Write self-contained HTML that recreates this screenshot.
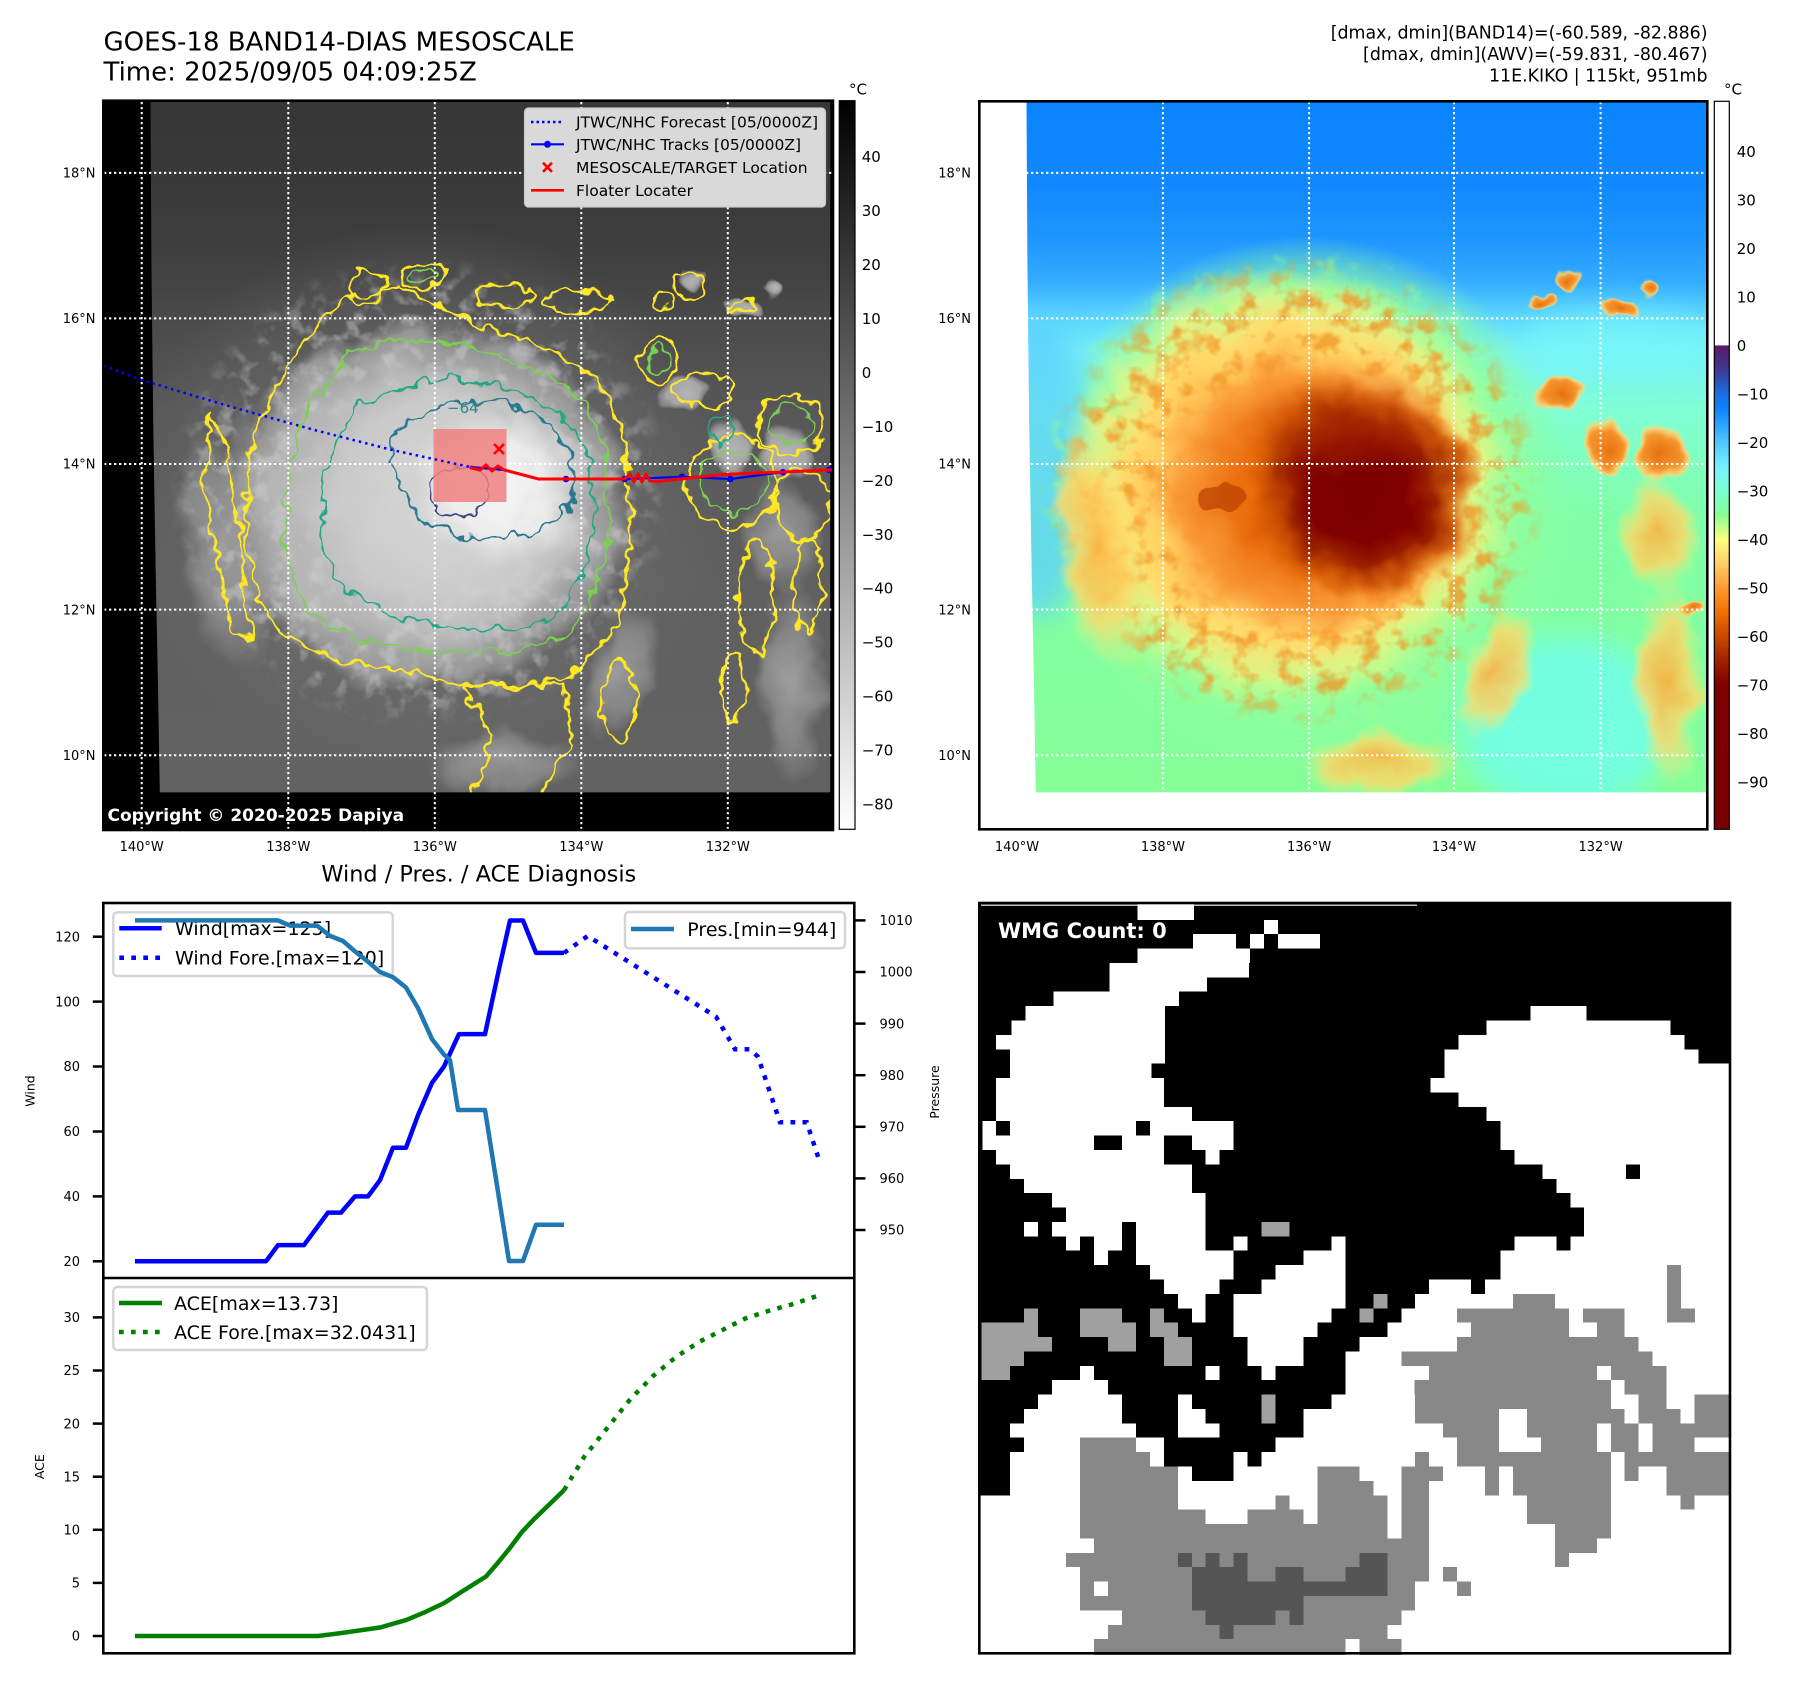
<!DOCTYPE html>
<html><head><meta charset="utf-8">
<style>
html,body{margin:0;padding:0;background:#fff}
svg{display:block}
text{font-family:"DejaVu Sans","Liberation Sans",sans-serif}
</style></head>
<body>
<svg width="1797" height="1690" viewBox="0 0 1797 1690" xmlns="http://www.w3.org/2000/svg">
<defs>
  <filter id="wob" x="-20%" y="-20%" width="140%" height="140%" color-interpolation-filters="sRGB">
    <feTurbulence type="fractalNoise" baseFrequency="0.01" numOctaves="3" seed="5" result="n"/>
    <feDisplacementMap in="SourceGraphic" in2="n" scale="70" xChannelSelector="R" yChannelSelector="G"/>
  </filter>
  <filter id="wob2" x="-20%" y="-20%" width="140%" height="140%" color-interpolation-filters="sRGB">
    <feTurbulence type="fractalNoise" baseFrequency="0.03" numOctaves="2" seed="9" result="n"/>
    <feDisplacementMap in="SourceGraphic" in2="n" scale="40" xChannelSelector="R" yChannelSelector="G"/>
  </filter>
  <filter id="blur" x="-50%" y="-50%" width="200%" height="200%"><feGaussianBlur stdDeviation="30"/></filter>
  <filter id="speckG" x="0%" y="0%" width="100%" height="100%" color-interpolation-filters="sRGB">
    <feTurbulence type="fractalNoise" baseFrequency="0.025" numOctaves="3" seed="21"/>
    <feColorMatrix type="matrix" values="0 0 0 0 0.84  0 0 0 0 0.84  0 0 0 0 0.84  4 0 0 0 -2.0"/>
  </filter>
  <filter id="speckO" x="0%" y="0%" width="100%" height="100%" color-interpolation-filters="sRGB">
    <feTurbulence type="fractalNoise" baseFrequency="0.022" numOctaves="3" seed="11"/>
    <feColorMatrix type="matrix" values="0 0 0 0 0.95  0 0 0 0 0.58  0 0 0 0 0.15  4 0 0 0 -1.95"/>
  </filter>
  <filter id="speckGr" x="0%" y="0%" width="100%" height="100%" color-interpolation-filters="sRGB">
    <feTurbulence type="fractalNoise" baseFrequency="0.022" numOctaves="3" seed="33"/>
    <feColorMatrix type="matrix" values="0 0 0 0 0.6  0 0 0 0 1  0 0 0 0 0.55  4 0 0 0 -2.2"/>
  </filter>
  <radialGradient id="mgRing"><stop offset="0" stop-color="#000"/><stop offset="0.35" stop-color="#000"/><stop offset="0.55" stop-color="#fff"/><stop offset="0.85" stop-color="#fff"/><stop offset="1" stop-color="#000"/></radialGradient>
  <radialGradient id="mgOuter"><stop offset="0" stop-color="#000"/><stop offset="0.65" stop-color="#000"/><stop offset="0.8" stop-color="#fff"/><stop offset="0.92" stop-color="#fff"/><stop offset="1" stop-color="#000"/></radialGradient>
  <mask id="mRing" maskUnits="userSpaceOnUse" x="0" y="0" width="1568" height="1568"><ellipse cx="680" cy="840" rx="540" ry="510" fill="url(#mgRing)"/></mask>
  <mask id="mOuter" maskUnits="userSpaceOnUse" x="0" y="0" width="1568" height="1568"><ellipse cx="680" cy="840" rx="560" ry="530" fill="url(#mgOuter)"/></mask>
  <clipPath id="dclip"><polygon points="102,0 1562,0 1562,1485 122,1485 118,1250 113,1000 108,700 104,350"/></clipPath>

  <linearGradient id="rbg" gradientUnits="userSpaceOnUse" x1="0" y1="0" x2="0" y2="1485">
    <stop offset="0" stop-color="#0a84ff"/><stop offset="0.12" stop-color="#1188ff"/>
    <stop offset="0.2" stop-color="#1e96ff"/><stop offset="0.26" stop-color="#34acff"/>
    <stop offset="0.31" stop-color="#5ad4ff"/><stop offset="0.36" stop-color="#76f0f6"/>
    <stop offset="0.45" stop-color="#80ffd4"/><stop offset="0.6" stop-color="#80ffa8"/>
    <stop offset="1" stop-color="#86ff98"/>
  </linearGradient>
  <radialGradient id="rA"><stop offset="0" stop-color="#98ff88"/><stop offset="0.8" stop-color="#90ffa0" stop-opacity="0.85"/><stop offset="1" stop-color="#90ffa0" stop-opacity="0"/></radialGradient>
  <radialGradient id="rB"><stop offset="0" stop-color="#ffb048"/><stop offset="0.5" stop-color="#ffc458"/><stop offset="0.7" stop-color="#ffdc6c"/><stop offset="0.84" stop-color="#f0f480" stop-opacity="0.75"/><stop offset="1" stop-color="#c8ff88" stop-opacity="0"/></radialGradient>
  <radialGradient id="rC"><stop offset="0" stop-color="#e05a00"/><stop offset="0.5" stop-color="#ec7010"/><stop offset="0.78" stop-color="#f89030" stop-opacity="0.8"/><stop offset="1" stop-color="#ffb048" stop-opacity="0"/></radialGradient>
  <radialGradient id="rD"><stop offset="0" stop-color="#7c0000"/><stop offset="0.45" stop-color="#800000"/><stop offset="0.65" stop-color="#9a2000"/><stop offset="0.82" stop-color="#c44a00" stop-opacity="0.75"/><stop offset="1" stop-color="#e06000" stop-opacity="0"/></radialGradient>
  <radialGradient id="rE"><stop offset="0" stop-color="#a02800" stop-opacity="0.75"/><stop offset="1" stop-color="#c04000" stop-opacity="0"/></radialGradient>
  <radialGradient id="rH"><stop offset="0" stop-color="#e8700e"/><stop offset="0.6" stop-color="#f5952e"/><stop offset="0.85" stop-color="#ffd070" stop-opacity="0.9"/><stop offset="1" stop-color="#ffe080" stop-opacity="0"/></radialGradient>
  <radialGradient id="rI"><stop offset="0" stop-color="#ffb040" stop-opacity="0.9"/><stop offset="0.6" stop-color="#ffd868" stop-opacity="0.8"/><stop offset="1" stop-color="#f0f080" stop-opacity="0"/></radialGradient>

  <linearGradient id="lbg" gradientUnits="userSpaceOnUse" x1="0" y1="0" x2="0" y2="1485">
    <stop offset="0" stop-color="#363636"/><stop offset="0.15" stop-color="#3a3a3a"/>
    <stop offset="0.25" stop-color="#424242"/><stop offset="0.33" stop-color="#4c4c4c"/>
    <stop offset="0.45" stop-color="#585858"/><stop offset="0.7" stop-color="#606060"/>
    <stop offset="1" stop-color="#626262"/>
  </linearGradient>
  <radialGradient id="lA"><stop offset="0" stop-color="#808080" stop-opacity="0.6"/><stop offset="0.75" stop-color="#747474" stop-opacity="0.3"/><stop offset="1" stop-color="#747474" stop-opacity="0"/></radialGradient>
  <radialGradient id="lB"><stop offset="0" stop-color="#c4c4c4"/><stop offset="0.7" stop-color="#b6b6b6"/><stop offset="0.9" stop-color="#a4a4a4" stop-opacity="0.8"/><stop offset="1" stop-color="#999999" stop-opacity="0"/></radialGradient>
  <radialGradient id="lC"><stop offset="0" stop-color="#dadada"/><stop offset="0.7" stop-color="#cecece" stop-opacity="0.8"/><stop offset="1" stop-color="#c4c4c4" stop-opacity="0"/></radialGradient>
  <radialGradient id="lD"><stop offset="0" stop-color="#f6f6f6"/><stop offset="0.6" stop-color="#ececec"/><stop offset="1" stop-color="#e0e0e0" stop-opacity="0"/></radialGradient>
  <radialGradient id="lH"><stop offset="0" stop-color="#b4b4b4"/><stop offset="0.6" stop-color="#a6a6a6"/><stop offset="0.85" stop-color="#909090" stop-opacity="0.8"/><stop offset="1" stop-color="#909090" stop-opacity="0"/></radialGradient>
  <radialGradient id="lI"><stop offset="0" stop-color="#a4a4a4" stop-opacity="0.9"/><stop offset="0.6" stop-color="#949494" stop-opacity="0.7"/><stop offset="1" stop-color="#949494" stop-opacity="0"/></radialGradient>

  <linearGradient id="cbL" x1="0" y1="0" x2="0" y2="1"><stop offset="0" stop-color="#000"/><stop offset="1" stop-color="#fff"/></linearGradient>
  <linearGradient id="cbR" x1="0" y1="0" x2="0" y2="1">
    <stop offset="0" stop-color="#ffffff"/><stop offset="0.335" stop-color="#ffffff"/>
    <stop offset="0.3357" stop-color="#5c1a62"/><stop offset="0.37" stop-color="#3a3a9a"/>
    <stop offset="0.4023" stop-color="#1a70e0"/><stop offset="0.4223" stop-color="#0a84ff"/>
    <stop offset="0.469" stop-color="#50c8ff"/><stop offset="0.5023" stop-color="#78f0ff"/>
    <stop offset="0.5356" stop-color="#78ffd0"/><stop offset="0.569" stop-color="#88ff90"/>
    <stop offset="0.6022" stop-color="#ffff80"/><stop offset="0.6356" stop-color="#ffcc68"/>
    <stop offset="0.669" stop-color="#ff9a30"/><stop offset="0.7022" stop-color="#f07000"/>
    <stop offset="0.7356" stop-color="#c84800"/><stop offset="0.769" stop-color="#a02000"/>
    <stop offset="0.8022" stop-color="#800000"/><stop offset="1" stop-color="#7a0000"/>
  </linearGradient>
</defs>

<rect width="1797" height="1690" fill="#fff"/>

<text x="103.5" y="50.5" font-size="26" fill="#000">GOES-18 BAND14-DIAS MESOSCALE</text>
<text x="103.5" y="80.5" font-size="26" fill="#000">Time: 2025/09/05 04:09:25Z</text>
<text x="1707.5" y="38.5" font-size="17.4" text-anchor="end">[dmax, dmin](BAND14)=(-60.589, -82.886)</text>
<text x="1707.5" y="60" font-size="17.4" text-anchor="end">[dmax, dmin](AWV)=(-59.831, -80.467)</text>
<text x="1707.5" y="81.5" font-size="17.4" text-anchor="end">11E.KIKO | 115kt, 951mb</text>

<!-- LEFT IR PANEL -->
<svg x="103" y="101" width="730" height="730" viewBox="0 0 1568 1568" preserveAspectRatio="none">
  <rect width="1568" height="1568" fill="#000"/>
  <polygon points="102,0 1562,0 1562,1485 122,1485 118,1250 113,1000 108,700 104,350" fill="url(#lbg)"/>
  <g clip-path="url(#dclip)">
    <ellipse cx="690" cy="860" rx="640" ry="600" fill="url(#lA)"/>
    <g filter="url(#wob)">
      <ellipse cx="690" cy="870" rx="450" ry="400" fill="url(#lB)"/>
      <ellipse cx="740" cy="860" rx="330" ry="300" fill="url(#lC)"/>
      <ellipse cx="850" cy="830" rx="190" ry="170" fill="url(#lD)"/>
      <ellipse cx="1255" cy="630" rx="55" ry="38" fill="url(#lH)"/>
      <ellipse cx="1340" cy="740" rx="50" ry="62" fill="url(#lH)"/>
      <ellipse cx="1465" cy="760" rx="58" ry="70" fill="url(#lH)"/>
      <ellipse cx="1255" cy="378" rx="30" ry="30" fill="url(#lH)"/>
      <ellipse cx="1432" cy="408" rx="22" ry="20" fill="url(#lH)"/>
      <ellipse cx="1380" cy="445" rx="40" ry="15" fill="url(#lH)"/>
      <ellipse cx="860" cy="1420" rx="170" ry="75" fill="url(#lI)"/>
      <ellipse cx="1480" cy="1250" rx="75" ry="230" fill="url(#lI)"/>
      <ellipse cx="1110" cy="1230" rx="70" ry="150" fill="url(#lI)" transform="rotate(20 1110 1230)"/>
      <ellipse cx="255" cy="960" rx="95" ry="270" fill="url(#lI)" transform="rotate(-10 255 960)"/>
      <ellipse cx="1460" cy="930" rx="90" ry="120" fill="url(#lI)"/>
    </g>
    <rect x="0" y="0" width="1568" height="1568" filter="url(#speckG)" mask="url(#mRing)" opacity="0.45"/>
    <g filter="url(#wob2)" fill="none" stroke-linejoin="round">
      <g stroke="#fde725" stroke-width="5.5">
        <polygon points="515,429 639,399 811,485 935,522 1058,596 1120,719 1132,867 1127,1015 1095,1138 1009,1236 885,1261 762,1249 639,1224 491,1199 392,1150 330,1064 306,941 306,818 330,695 392,571 454,485"/>
        <polygon points="770,1255 836,1360 790,1500 934,1500 1009,1384 990,1255"/>
        <polygon points="232,670 269,744 293,916 306,1089 330,1163 281,1138 244,991 219,818"/>
        <ellipse cx="1194" cy="559" rx="37" ry="49"/>
        <ellipse cx="1292" cy="621" rx="62" ry="37"/>
        <ellipse cx="1477" cy="695" rx="74" ry="62"/>
        <ellipse cx="1354" cy="818" rx="99" ry="99"/>
        <ellipse cx="1502" cy="867" rx="62" ry="74"/>
        <ellipse cx="1255" cy="399" rx="30" ry="30"/>
        <ellipse cx="1378" cy="443" rx="25" ry="12"/>
        <ellipse cx="1201" cy="429" rx="18" ry="14"/>
        <ellipse cx="688" cy="374" rx="49" ry="30"/>
        <ellipse cx="861" cy="419" rx="62" ry="25"/>
        <ellipse cx="1021" cy="429" rx="74" ry="25"/>
        <ellipse cx="565" cy="399" rx="37" ry="37"/>
        <ellipse cx="1403" cy="1064" rx="37" ry="123"/>
        <ellipse cx="1514" cy="1039" rx="30" ry="99"/>
        <ellipse cx="1354" cy="1261" rx="25" ry="74"/>
        <ellipse cx="1107" cy="1286" rx="37" ry="86"/>
      </g>
      <g stroke="#7ad151" stroke-width="4.5">
        <polygon points="525,540 663,515 811,535 950,585 1045,655 1082,770 1088,916 1058,1055 1000,1150 885,1185 713,1180 545,1160 440,1100 395,985 395,820 430,680"/>
        <ellipse cx="1354" cy="818" rx="70" ry="70"/>
        <ellipse cx="1477" cy="695" rx="50" ry="40"/>
        <ellipse cx="1194" cy="559" rx="22" ry="30"/>
        <ellipse cx="688" cy="374" rx="30" ry="16"/>
      </g>
      <g stroke="#22a884" stroke-width="4.5">
        <polygon points="589,633 713,596 861,608 984,670 1046,768 1058,892 1033,1015 984,1101 885,1138 762,1133 639,1113 515,1052 466,941 478,793 515,695"/>
        <ellipse cx="1329" cy="707" rx="30" ry="25"/>
      </g>
      <polygon stroke="#2a788e" stroke-width="4.5" points="626,707 737,650 861,645 959,695 1009,768 1009,855 959,916 861,941 762,936 688,904 639,842 621,768"/>
      <ellipse stroke="#414487" stroke-width="4.5" cx="766" cy="836" rx="58" ry="55"/>
    </g>
  </g>
</svg>

<g stroke="#fff" stroke-width="2" stroke-dasharray="2.3 2.7">
  <line x1="141.7" y1="102" x2="141.7" y2="830"/>
  <line x1="288.3" y1="102" x2="288.3" y2="830"/>
  <line x1="434.8" y1="102" x2="434.8" y2="830"/>
  <line x1="581.3" y1="102" x2="581.3" y2="830"/>
  <line x1="727.8" y1="102" x2="727.8" y2="830"/>
  <line x1="104" y1="172.9" x2="832" y2="172.9"/>
  <line x1="104" y1="318.4" x2="832" y2="318.4"/>
  <line x1="104" y1="464" x2="832" y2="464"/>
  <line x1="104" y1="609.6" x2="832" y2="609.6"/>
  <line x1="104" y1="755.2" x2="832" y2="755.2"/>
</g>

<rect x="433.5" y="429" width="73" height="73" fill="#f08080" opacity="0.85"/>
<text x="447" y="413" font-size="15" fill="#2a8a8a">−64</text>
<polyline points="103.5,365.5 141.4,380 230.8,406.7 314.4,430 392.3,450 470,467" fill="none" stroke="#0000ff" stroke-width="2.5" stroke-dasharray="2.5 4"/>
<polyline points="470,467 504,469.9 538.5,479 566,479 624.6,479 682,476.8 730.3,479 783.1,472.2 832,469.9" fill="none" stroke="#0000ff" stroke-width="2.2"/>
<g fill="#0000ff">
  <circle cx="566" cy="479" r="3.3"/><circle cx="624.6" cy="479" r="3.3"/><circle cx="682" cy="476.8" r="3.3"/>
  <circle cx="730.3" cy="479" r="3.3"/><circle cx="783.1" cy="472.2" r="3.3"/><circle cx="829" cy="469.9" r="3.3"/>
</g>
<polyline points="469.6,467.6 480,470 486,465 492,471 498,466 504,469.9 538.5,479 624.6,479 630,474 634,482 638,474 642,482 646,474 650,481 659,481.4 722.2,474.5 832.5,469.9" fill="none" stroke="#ff0000" stroke-width="3" stroke-linejoin="round"/>
<g stroke="#ff0000" stroke-width="2.6">
  <line x1="494" y1="444" x2="504" y2="454"/><line x1="504" y1="444" x2="494" y2="454"/>
</g>

<rect x="524.5" y="108" width="301" height="99" rx="4" fill="#d9d9d9" stroke="#c8c8c8" stroke-width="1.2"/>
<line x1="531" y1="122" x2="564" y2="122" stroke="#0000ff" stroke-width="2.5" stroke-dasharray="2.5 3"/>
<line x1="531" y1="144.3" x2="564" y2="144.3" stroke="#0000ff" stroke-width="2.2"/>
<circle cx="547.5" cy="144.3" r="3.5" fill="#0000ff"/>
<g stroke="#ff0000" stroke-width="2.6"><line x1="543" y1="162.8" x2="552" y2="171.8"/><line x1="552" y1="162.8" x2="543" y2="171.8"/></g>
<line x1="531" y1="190.3" x2="564" y2="190.3" stroke="#ff0000" stroke-width="2.6"/>
<g font-size="15.5" fill="#000">
  <text x="576" y="127.6">JTWC/NHC Forecast [05/0000Z]</text>
  <text x="576" y="149.9">JTWC/NHC Tracks [05/0000Z]</text>
  <text x="576" y="172.9">MESOSCALE/TARGET Location</text>
  <text x="576" y="195.9">Floater Locater</text>
</g>
<text x="107.5" y="821" font-size="17" font-weight="bold" fill="#fff">Copyright © 2020-2025 Dapiya</text>

<rect x="103.3" y="100.7" width="729.7" height="729.3" fill="none" stroke="#000" stroke-width="2.6"/>
<rect x="839.3" y="100.7" width="15.7" height="728.6" fill="url(#cbL)" stroke="#000" stroke-width="1.2"/>
<text x="849" y="94.3" font-size="15">°C</text>
<g font-size="15" fill="#000">
  <text x="861.7" y="162.2">40</text><text x="861.7" y="216.1">30</text><text x="861.7" y="270.1">20</text>
  <text x="861.7" y="324">10</text><text x="861.7" y="378">0</text><text x="861.7" y="431.9">−10</text>
  <text x="861.7" y="485.8">−20</text><text x="861.7" y="539.8">−30</text><text x="861.7" y="593.7">−40</text>
  <text x="861.7" y="647.7">−50</text><text x="861.7" y="701.6">−60</text><text x="861.7" y="755.6">−70</text>
  <text x="861.7" y="809.5">−80</text>
</g>
<g font-size="13" fill="#000" text-anchor="end">
  <text x="95.5" y="177.6">18°N</text><text x="95.5" y="323.1">16°N</text><text x="95.5" y="468.7">14°N</text>
  <text x="95.5" y="614.3">12°N</text><text x="95.5" y="759.9">10°N</text>
</g>
<g font-size="13" fill="#000" text-anchor="middle">
  <text x="141.7" y="851">140°W</text><text x="288.3" y="851">138°W</text><text x="434.8" y="851">136°W</text>
  <text x="581.3" y="851">134°W</text><text x="727.8" y="851">132°W</text>
</g>

<!-- RIGHT COLOR PANEL -->
<svg x="979" y="101" width="730" height="730" viewBox="0 0 1568 1568" preserveAspectRatio="none">
  <rect width="1568" height="1568" fill="#fff"/>
  <polygon points="102,0 1562,0 1562,1485 122,1485 118,1250 113,1000 108,700 104,350" fill="url(#rbg)"/>
  <g clip-path="url(#dclip)">
    <ellipse cx="700" cy="860" rx="580" ry="570" fill="url(#rA)"/>
    <ellipse cx="130" cy="780" rx="110" ry="330" fill="#5ccfff" opacity="0.75" filter="url(#blur)"/>
    <ellipse cx="1260" cy="1340" rx="230" ry="190" fill="#70fff0" opacity="0.8" filter="url(#blur)"/>
    <ellipse cx="1380" cy="520" rx="220" ry="70" fill="#78f8f8" opacity="0.7" filter="url(#blur)"/>
    <g filter="url(#wob)">
      <ellipse cx="660" cy="830" rx="500" ry="480" fill="url(#rB)"/>
    </g>
    <rect x="0" y="0" width="1568" height="1568" filter="url(#speckGr)" mask="url(#mOuter)" opacity="0.6"/>
    <rect x="0" y="0" width="1568" height="1568" filter="url(#speckO)" mask="url(#mRing)" opacity="0.75"/>
    <g filter="url(#wob)">
      <ellipse cx="720" cy="840" rx="355" ry="325" fill="url(#rC)"/>
      <ellipse cx="820" cy="840" rx="255" ry="235" fill="url(#rD)"/>
      <ellipse cx="780" cy="690" rx="230" ry="110" fill="url(#rE)" transform="rotate(-10 780 690)"/>
      <ellipse cx="520" cy="840" rx="40" ry="30" fill="#b84000" opacity="0.7"/>
      <ellipse cx="1255" cy="630" rx="55" ry="38" fill="url(#rH)"/>
      <ellipse cx="1340" cy="740" rx="50" ry="62" fill="url(#rH)"/>
      <ellipse cx="1465" cy="760" rx="58" ry="70" fill="url(#rH)"/>
      <ellipse cx="1255" cy="378" rx="30" ry="30" fill="url(#rH)"/>
      <ellipse cx="1432" cy="408" rx="22" ry="20" fill="url(#rH)"/>
      <ellipse cx="1200" cy="420" rx="25" ry="12" fill="url(#rH)"/>
      <ellipse cx="1380" cy="445" rx="40" ry="15" fill="url(#rH)"/>
      <ellipse cx="1530" cy="1090" rx="30" ry="20" fill="url(#rH)"/>
      <ellipse cx="860" cy="1420" rx="170" ry="75" fill="url(#rI)"/>
      <ellipse cx="1480" cy="1250" rx="75" ry="230" fill="url(#rI)"/>
      <ellipse cx="1110" cy="1230" rx="70" ry="150" fill="url(#rI)" transform="rotate(20 1110 1230)"/>
      <ellipse cx="255" cy="960" rx="95" ry="270" fill="url(#rI)" transform="rotate(-10 255 960)"/>
      <ellipse cx="1460" cy="930" rx="90" ry="120" fill="url(#rI)"/>
    </g>
  </g>
</svg>

<g stroke="#fff" stroke-width="2" stroke-dasharray="2.3 2.7">
  <line x1="1162.9" y1="102" x2="1162.9" y2="829"/>
  <line x1="1309.1" y1="102" x2="1309.1" y2="829"/>
  <line x1="1454" y1="102" x2="1454" y2="829"/>
  <line x1="1600.6" y1="102" x2="1600.6" y2="829"/>
  <line x1="1026" y1="172.9" x2="1706" y2="172.9"/>
  <line x1="1026" y1="318.4" x2="1706" y2="318.4"/>
  <line x1="1026" y1="464" x2="1706" y2="464"/>
  <line x1="1026" y1="609.6" x2="1706" y2="609.6"/>
  <line x1="1026" y1="755.2" x2="1706" y2="755.2"/>
</g>
<rect x="979.3" y="101.3" width="728" height="728" fill="none" stroke="#000" stroke-width="2.6"/>
<rect x="1714.3" y="101.3" width="15" height="728" fill="url(#cbR)" stroke="#000" stroke-width="1.2"/>
<text x="1724" y="94.3" font-size="15">°C</text>
<g font-size="15" fill="#000">
  <text x="1736.7" y="157.2">40</text><text x="1736.7" y="205.7">30</text><text x="1736.7" y="254.2">20</text>
  <text x="1736.7" y="302.7">10</text><text x="1736.7" y="351.2">0</text><text x="1736.7" y="399.7">−10</text>
  <text x="1736.7" y="448.2">−20</text><text x="1736.7" y="496.7">−30</text><text x="1736.7" y="545.2">−40</text>
  <text x="1736.7" y="593.7">−50</text><text x="1736.7" y="642.2">−60</text><text x="1736.7" y="690.7">−70</text>
  <text x="1736.7" y="739.2">−80</text><text x="1736.7" y="787.7">−90</text>
</g>
<g font-size="13" fill="#000" text-anchor="end">
  <text x="971" y="177.6">18°N</text><text x="971" y="323.1">16°N</text><text x="971" y="468.7">14°N</text>
  <text x="971" y="614.3">12°N</text><text x="971" y="759.9">10°N</text>
</g>
<g font-size="13" fill="#000" text-anchor="middle">
  <text x="1017" y="851">140°W</text><text x="1162.9" y="851">138°W</text><text x="1309.1" y="851">136°W</text>
  <text x="1454" y="851">134°W</text><text x="1600.6" y="851">132°W</text>
</g>

<!-- BOTTOM-LEFT DIAGNOSIS -->
<text x="478.8" y="881.7" font-size="22.4" text-anchor="middle">Wind / Pres. / ACE Diagnosis</text>

<rect x="113.3" y="912.3" width="279.4" height="63.7" rx="4" fill="#fff" stroke="#d4d4d4" stroke-width="2.4"/>
<line x1="119.3" y1="928.3" x2="161.7" y2="928.3" stroke="#0000ff" stroke-width="4.5"/>
<line x1="119.3" y1="957.7" x2="161.7" y2="957.7" stroke="#0000ff" stroke-width="4.5" stroke-dasharray="4.7 7.3"/>
<text x="175" y="935.2" font-size="19">Wind[max=125]</text>
<text x="175" y="964.6" font-size="19">Wind Fore.[max=120]</text>

<polyline points="135,1261.3 266,1261.3 278,1245.1 304,1245.1 328,1212.6 341,1212.6 355,1196.4 368,1196.4 380,1180.2 393,1147.7 406,1147.7 418,1115.2 432,1082.8 444,1066.5 459,1034.1 485,1034.1 499,969.2 510,920.5 523,920.5 536,952.9 564,952.9" fill="none" stroke="#0000ff" stroke-width="4.5" stroke-linejoin="round"/>
<polyline points="564,952.9 587.7,936 716,1016.7 735,1049.3 750,1049.3 758,1056.7 780,1122.3 806.7,1122.3 820,1162.7" fill="none" stroke="#0000ff" stroke-width="4.5" stroke-dasharray="4.7 7.3"/>
<polyline points="135,1636 318,1636 343,1632.8 380,1627.5 406,1620.1 424,1612.6 444,1603.1 464,1590.3 486,1576.5 497,1563.8 510,1547.9 522,1531.9 534,1519.2 564,1490.2" fill="none" stroke="#008000" stroke-width="4.5" stroke-linejoin="round"/>
<polyline points="564,1490.2 584.4,1456.5 607.4,1427.8 630.3,1399.2 653.3,1375.8 676.3,1356.7 699.3,1341.8 722.3,1330.1 745.2,1318.5 768.2,1311 791.2,1304.6 818,1295.7" fill="none" stroke="#008000" stroke-width="4.5" stroke-dasharray="4.7 7.3"/>
<polyline points="135,920.4 278,920.4 290,925.6 317,925.6 330,935.9 343,941 355,951.4 368,961.7 380,972 393,977.2 406,987.5 418,1008.1 432,1039.1 444,1054.6 450,1060 458,1110 485,1110 509,1261 523,1261 536,1224.8 564,1224.8" fill="none" stroke="#1f77b4" stroke-width="4.5" stroke-linejoin="round"/>

<rect x="625" y="912" width="220" height="36.3" rx="4" fill="#fff" stroke="#d4d4d4" stroke-width="2.4"/>
<line x1="631" y1="929" x2="674" y2="929" stroke="#1f77b4" stroke-width="4.5"/>
<text x="687.3" y="935.9" font-size="19">Pres.[min=944]</text>

<rect x="113.3" y="1287" width="313.7" height="63" rx="4" fill="#fff" stroke="#d4d4d4" stroke-width="2.4"/>
<line x1="119" y1="1303" x2="162" y2="1303" stroke="#008000" stroke-width="4.5"/>
<line x1="119" y1="1332" x2="162" y2="1332" stroke="#008000" stroke-width="4.5" stroke-dasharray="4.7 7.3"/>
<text x="174" y="1309.9" font-size="19">ACE[max=13.73]</text>
<text x="174" y="1338.9" font-size="19">ACE Fore.[max=32.0431]</text>

<rect x="103.3" y="903" width="751" height="750.3" fill="none" stroke="#000" stroke-width="2.6"/>
<line x1="103.3" y1="1278" x2="854.3" y2="1278" stroke="#000" stroke-width="2.6"/>

<g stroke="#000" stroke-width="2.5">
  <line x1="92.8" y1="1261.3" x2="103.3" y2="1261.3"/><line x1="92.8" y1="1196.4" x2="103.3" y2="1196.4"/>
  <line x1="92.8" y1="1131.5" x2="103.3" y2="1131.5"/><line x1="92.8" y1="1066.5" x2="103.3" y2="1066.5"/>
  <line x1="92.8" y1="1001.6" x2="103.3" y2="1001.6"/><line x1="92.8" y1="936.7" x2="103.3" y2="936.7"/>
  <line x1="92.8" y1="1636" x2="103.3" y2="1636"/><line x1="92.8" y1="1582.9" x2="103.3" y2="1582.9"/>
  <line x1="92.8" y1="1529.8" x2="103.3" y2="1529.8"/><line x1="92.8" y1="1476.7" x2="103.3" y2="1476.7"/>
  <line x1="92.8" y1="1423.6" x2="103.3" y2="1423.6"/><line x1="92.8" y1="1370.5" x2="103.3" y2="1370.5"/>
  <line x1="92.8" y1="1317.4" x2="103.3" y2="1317.4"/>
  <line x1="854.3" y1="920.4" x2="865.5" y2="920.4"/><line x1="854.3" y1="972" x2="865.5" y2="972"/>
  <line x1="854.3" y1="1023.6" x2="865.5" y2="1023.6"/><line x1="854.3" y1="1075.2" x2="865.5" y2="1075.2"/>
  <line x1="854.3" y1="1126.8" x2="865.5" y2="1126.8"/><line x1="854.3" y1="1178.4" x2="865.5" y2="1178.4"/>
  <line x1="854.3" y1="1230" x2="865.5" y2="1230"/>
</g>
<g font-size="13" text-anchor="end">
  <text x="80" y="1266">20</text><text x="80" y="1201.1">40</text><text x="80" y="1136.2">60</text>
  <text x="80" y="1071.2">80</text><text x="80" y="1006.3">100</text><text x="80" y="941.4">120</text>
  <text x="80" y="1640.7">0</text><text x="80" y="1587.6">5</text><text x="80" y="1534.5">10</text>
  <text x="80" y="1481.4">15</text><text x="80" y="1428.3">20</text><text x="80" y="1375.2">25</text>
  <text x="80" y="1322.1">30</text>
</g>
<g font-size="13">
  <text x="879.5" y="925.1">1010</text><text x="879.5" y="976.7">1000</text><text x="879.5" y="1028.3">990</text>
  <text x="879.5" y="1079.9">980</text><text x="879.5" y="1131.5">970</text><text x="879.5" y="1183.1">960</text>
  <text x="879.5" y="1234.7">950</text>
</g>
<text transform="translate(34.5,1091) rotate(-90)" font-size="12.5" text-anchor="middle">Wind</text>
<text transform="translate(43.8,1466.7) rotate(-90)" font-size="12.5" text-anchor="middle">ACE</text>
<text transform="translate(939,1092) rotate(-90)" font-size="12.5" text-anchor="middle">Pressure</text>

<!-- WMG PANEL -->
<svg x="979" y="903" width="750.5" height="752" viewBox="0 0 1612 1568" preserveAspectRatio="none" shape-rendering="crispEdges">
  <rect width="1612" height="1568" fill="#fff"/>
  <path fill="#000" d="M1568 0H1612V335H1568Z M0 0H340V35H0Z M462 0H1568V35H462Z M0 35H612V65H0Z M642 35H1568V65H642Z M0 65H460V95H0Z M552 65H582V95H552Z M612 65H642V95H612Z M732 65H1568V95H732Z M0 95H340V125H0Z M582 95H1568V125H582Z M0 125H280V155H0Z M580 125H1568V155H580Z M0 155H280V185H0Z M490 155H1568V185H490Z M0 185H160V215H0Z M430 185H1568V215H430Z M0 215H100V245H0Z M400 215H1185V245H400Z M1305 215H1568V245H1305Z M0 245H70V275H0Z M400 245H1090V275H400Z M1485 245H1568V275H1485Z M0 275H37V305H0Z M400 275H1030V305H400Z M1515 275H1568V305H1515Z M0 305H67V335H0Z M400 305H1000V335H400Z M1545 305H1568V335H1545Z M0 335H67V365H0Z M370 335H1000V365H370Z M0 365H37V395H0Z M397 365H970V395H397Z M0 395H37V425H0Z M397 395H1030V425H397Z M0 425H37V455H0Z M457 425H1090V455H457Z M0 455H7V485H0Z M37 455H67V485H37Z M337 455H367V485H337Z M547 455H1120V485H547Z M0 485H7V515H0Z M247 485H307V515H247Z M397 485H457V515H397Z M547 485H1120V515H547Z M0 515H37V545H0Z M397 515H487V545H397Z M517 515H1150V545H517Z M0 545H67V575H0Z M457 545H1210V575H457Z M1390 545H1420V575H1390Z M0 575H97V605H0Z M457 575H1240V605H457Z M0 605H157V635H0Z M487 605H1270V635H487Z M0 635H187V665H0Z M487 635H1300V665H487Z M0 665H97V695H0Z M127 665H157V695H127Z M307 665H337V695H307Z M487 665H607V695H487Z M667 665H1300V695H667Z M0 695H187V725H0Z M217 695H247V725H217Z M307 695H337V725H307Z M487 695H547V725H487Z M577 695H757V725H577Z M787 695H1150V725H787Z M1240 695H1270V725H1240Z M0 725H247V755H0Z M277 725H337V755H277Z M547 725H697V755H547Z M787 725H1120V755H787Z M0 755H367V785H0Z M547 755H637V785H547Z M787 755H1120V785H787Z M0 785H397V815H0Z M517 785H607V815H517Z M787 785H967V815H787Z M1057 785H1087V815H1057Z M0 815H427V845H0Z M487 815H547V845H487Z M787 815H847V845H787Z M877 815H937V845H877Z M0 845H97V875H0Z M127 845H217V875H127Z M307 845H367V875H307Z M397 845H457V875H397Z M487 845H547V875H487Z M757 845H817V875H757Z M847 845H907V875H847Z M0 875H5V905H0Z M127 875H217V905H127Z M337 875H367V905H337Z M427 875H547V905H427Z M727 875H877V905H727Z M0 905H5V935H0Z M157 905H277V935H157Z M337 905H397V935H337Z M457 905H577V935H457Z M697 905H817V935H697Z M0 935H5V965H0Z M97 935H397V965H97Z M457 935H577V965H457Z M697 935H787V965H697Z M0 965H5V995H0Z M67 965H217V995H67Z M247 965H487V995H247Z M517 965H607V995H517Z M637 965H787V995H637Z M0 995H157V1025H0Z M277 995H787V1025H277Z M0 1025H127V1055H0Z M307 1025H427V1055H307Z M457 1025H607V1055H457Z M637 1025H757V1055H637Z M0 1055H97V1085H0Z M307 1055H427V1085H307Z M487 1055H607V1085H487Z M637 1055H697V1085H637Z M0 1085H67V1115H0Z M337 1085H427V1115H337Z M517 1085H697V1115H517Z M0 1115H97V1145H0Z M397 1115H637V1145H397Z M0 1145H67V1175H0Z M397 1145H547V1175H397Z M577 1145H607V1175H577Z M0 1175H67V1205H0Z M457 1175H547V1205H457Z M0 1205H67V1235H0Z"/>
  <path fill="#a0a0a0" d="M607 665H667V695H607Z M847 815H877V845H847Z M97 845H127V875H97Z M217 845H307V875H217Z M367 845H397V875H367Z M817 845H847V875H817Z M5 875H127V905H5Z M217 875H337V905H217Z M367 875H427V905H367Z M5 905H157V935H5Z M277 905H337V935H277Z M397 905H457V935H397Z M5 935H97V965H5Z M397 935H457V965H397Z M5 965H67V995H5Z M607 1025H637V1085H607Z"/>
  <path fill="#888888" d="M1568 1025H1612V1115H1568Z M1568 1145H1612V1235H1568Z M1478 755H1508V845H1478Z M1147 815H1237V845H1147Z M1027 845H1267V875H1027Z M1297 845H1387V875H1297Z M1478 845H1538V875H1478Z M1057 875H1267V905H1057Z M1327 875H1387V905H1327Z M1027 905H1417V935H1027Z M907 935H1447V965H907Z M967 965H1327V995H967Z M1357 965H1477V995H1357Z M935 995H1357V1025H935Z M1387 995H1477V1025H1387Z M937 1025H1357V1055H937Z M1417 1025H1477V1055H1417Z M1537 1025H1568V1055H1537Z M937 1055H1117V1085H937Z M1177 1055H1387V1085H1177Z M1417 1055H1507V1085H1417Z M1537 1055H1568V1085H1537Z M997 1085H1117V1115H997Z M1177 1085H1327V1115H1177Z M1357 1085H1417V1115H1357Z M1447 1085H1568V1115H1447Z M217 1115H337V1145H217Z M1027 1115H1117V1145H1027Z M1207 1115H1327V1145H1207Z M1357 1115H1417V1145H1357Z M1447 1115H1537V1145H1447Z M217 1145H367V1175H217Z M937 1145H967V1175H937Z M1027 1145H1357V1175H1027Z M1387 1145H1568V1175H1387Z M217 1175H427V1205H217Z M727 1175H817V1205H727Z M907 1175H997V1205H907Z M1087 1175H1117V1205H1087Z M1147 1175H1357V1205H1147Z M1387 1175H1417V1205H1387Z M1477 1175H1568V1205H1477Z M217 1205H427V1235H217Z M727 1205H847V1235H727Z M907 1205H967V1235H907Z M1087 1205H1117V1235H1087Z M1147 1205H1357V1235H1147Z M1477 1205H1568V1235H1477Z M217 1235H427V1265H217Z M637 1235H667V1265H637Z M727 1235H877V1265H727Z M907 1235H967V1265H907Z M1177 1235H1357V1265H1177Z M1507 1235H1537V1265H1507Z M217 1265H487V1295H217Z M577 1265H697V1295H577Z M727 1265H877V1295H727Z M907 1265H967V1295H907Z M1177 1265H1357V1295H1177Z M217 1295H877V1325H217Z M907 1295H967V1325H907Z M1237 1295H1357V1325H1237Z M247 1325H967V1355H247Z M1237 1325H1327V1355H1237Z M187 1355H967V1385H187Z M1237 1355H1267V1385H1237Z M217 1385H967V1415H217Z M997 1385H1027V1415H997Z M217 1415H247V1445H217Z M277 1415H937V1445H277Z M1027 1415H1057V1445H1027Z M217 1445H937V1475H217Z M307 1475H907V1505H307Z M277 1505H877V1535H277Z M247 1535H787V1568H247Z M817 1535H907V1568H817Z"/>
  <path fill="#555555" d="M427 1355H457V1385H427Z M487 1355H517V1385H487Z M547 1355H577V1385H547Z M817 1355H877V1385H817Z M457 1385H577V1415H457Z M637 1385H697V1415H637Z M787 1385H877V1415H787Z M457 1415H877V1445H457Z M457 1445H697V1475H457Z M487 1475H637V1505H487Z M667 1475H697V1505H667Z M517 1505H547V1535H517Z"/>
</svg>
<rect x="979.3" y="903" width="750.7" height="750.3" fill="none" stroke="#000" stroke-width="2.6"/>
<line x1="981" y1="905.2" x2="1417" y2="905.2" stroke="#fff" stroke-width="1.2"/>
<text x="998" y="938" font-size="21" font-weight="bold" fill="#fff">WMG Count: 0</text>
</svg>
</body></html>
